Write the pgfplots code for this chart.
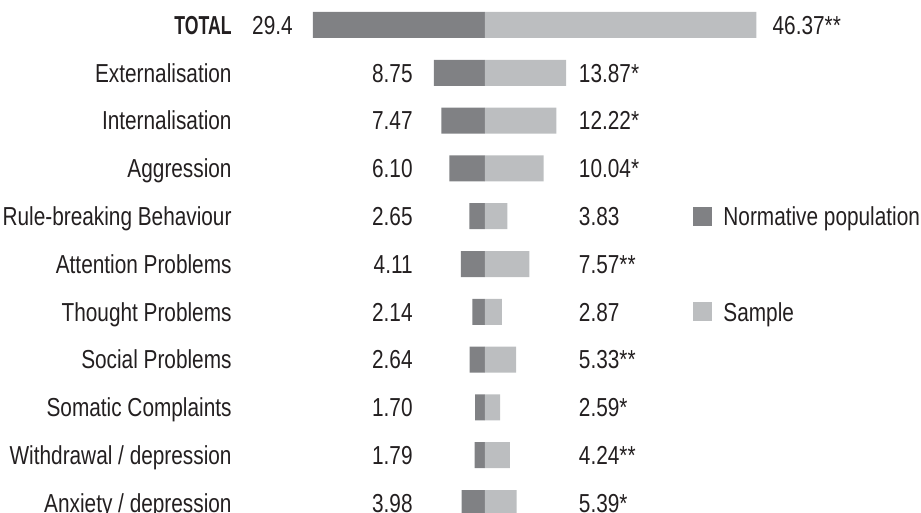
\documentclass[border=0pt]{standalone}
\usepackage{pgfplots}
\pgfplotsset{compat=1.18}
\usepackage{pgfplotstable}
\usepackage{fontspec}
\setmainfont{Liberation Sans}[FakeStretch=0.8, BoldFeatures={FakeStretch=0.68}]
\definecolor{darkbar}{RGB}{128,129,132}
\definecolor{lightbar}{RGB}{188,190,192}
\definecolor{txt}{RGB}{35,31,32}

\pgfplotsset{
  darkleg/.style={legend image code/.code={\fill[darkbar] (0pt,-4.75pt) rectangle (9.5pt,4.75pt);}},
  lightleg/.style={legend image code/.code={\fill[lightbar] (0pt,-4.75pt) rectangle (9.5pt,4.75pt);}},
}

\pgfplotstableread[col sep=comma]{
idx,norm,samp,cat,nlab,slab,nx,sx
0,29.4,46.37,\textbf{TOTAL},29.4,46.37**,-32.8,49.1
1,8.75,13.87,Externalisation,8.75,13.87*,-12.3,16.0
2,7.47,12.22,Internalisation,7.47,12.22*,-12.3,16.0
3,6.10,10.04,Aggression,6.10,10.04*,-12.3,16.0
4,2.65,3.83,Rule-breaking Behaviour,2.65,3.83,-12.3,16.0
5,4.11,7.57,Attention Problems,4.11,7.57**,-12.3,16.0
6,2.14,2.87,Thought Problems,2.14,2.87,-12.3,16.0
7,2.64,5.33,Social Problems,2.64,5.33**,-12.3,16.0
8,1.70,2.59,Somatic Complaints,1.70,2.59*,-12.3,16.0
9,1.79,4.24,Withdrawal / depression,1.79,4.24**,-12.3,16.0
10,3.98,5.39,Anxiety / depression,3.98,5.39*,-12.3,16.0
}\datatable

\newcommand{\lblfont}{\fontsize{13}{15}\selectfont}

\begin{document}
\begin{tikzpicture}[font=\lblfont]
\begin{axis}[
  x=2.925pt, y=23.9pt, y dir=reverse,
  xmin=-82.9, xmax=74.53, ymin=-0.523, ymax=10.19,
  hide axis, clip=true,
  legend cell align=left,
  legend style={at={(axis cs:35.56,5)}, anchor=west, draw=none, fill=none,
    inner sep=0pt, row sep=38.3pt,
    nodes={inner sep=0pt, text height=9.3pt, text depth=0pt, font=\lblfont, text=txt},
    /tikz/every odd column/.append style={column sep=5.5pt}},
]
\addplot[xbar, bar width=13pt, bar shift=0pt, fill=darkbar, draw=none, darkleg]
  table[x expr=-\thisrow{norm}, y=idx]{\datatable};
\addlegendentry{Normative population}
\addplot[xbar, bar width=13pt, bar shift=0pt, fill=lightbar, draw=none, lightleg]
  table[x=samp, y=idx]{\datatable};
\addlegendentry{Sample}
% category labels
\addplot[draw=none, mark=none, forget plot, nodes near coords, point meta=explicit symbolic,
  every node near coord/.append style={anchor=base east, yshift=-4.65pt, inner sep=0pt, font=\lblfont, text=txt}]
  table[x expr=-43.25, y=idx, meta=cat]{\datatable};
% normative value labels
\addplot[draw=none, mark=none, forget plot, nodes near coords, point meta=explicit symbolic,
  every node near coord/.append style={anchor=base east, yshift=-4.65pt, inner sep=0pt, font=\lblfont, text=txt}]
  table[x=nx, y=idx, meta=nlab]{\datatable};
% sample value labels
\addplot[draw=none, mark=none, forget plot, nodes near coords, point meta=explicit symbolic,
  every node near coord/.append style={anchor=base west, yshift=-4.65pt, inner sep=0pt, font=\lblfont, text=txt}]
  table[x=sx, y=idx, meta=slab]{\datatable};
\end{axis}
\pgfresetboundingbox
\path (current axis.south west) rectangle (current axis.north east);
\end{tikzpicture}
\end{document}
